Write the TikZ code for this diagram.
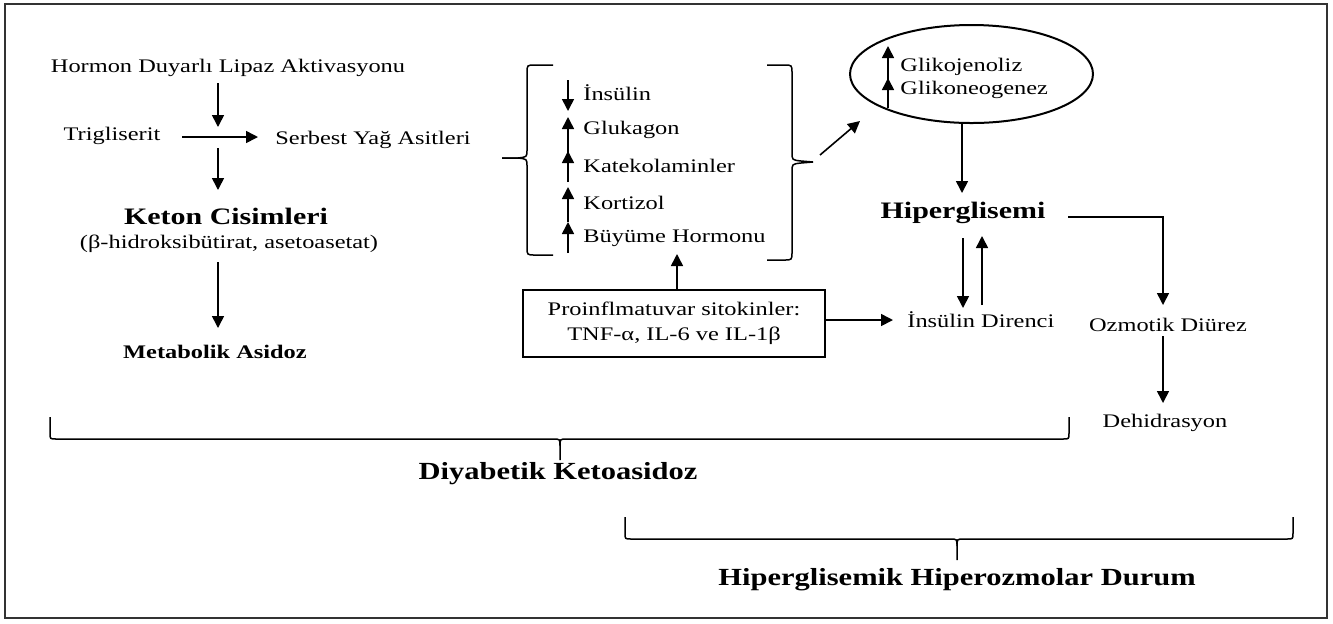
\documentclass[tikz,border=0pt]{standalone}
\usepackage{fontspec}
\setmainfont{Liberation Serif}[FakeStretch=1.27]
\usetikzlibrary{arrows.meta,shapes.geometric}
\begin{document}
\begin{tikzpicture}[x=0.5pt,y=-0.5pt,
  arr/.style={line width=0.8pt,-{Triangle[length=6pt,width=6pt]}},
  ln/.style={line width=0.75pt},
  txt/.style={inner sep=0pt,font=\fontsize{9.6}{11}\selectfont},
  bsm/.style={inner sep=0pt,font=\fontsize{9.6}{11}\selectfont\bfseries},
  big/.style={inner sep=0pt,font=\fontsize{11.8}{13}\selectfont\bfseries},
  lab/.style={inner sep=0pt,font=\fontsize{12.3}{13}\selectfont\bfseries\addfontfeature{FakeStretch=1.24}},
  ]
\useasboundingbox (0,0) rectangle (1333,623);
\draw[line width=1pt, black!80] (5,4) rectangle (1327,618);

% left column
\node[txt] (hdl) at (228,68) {Hormon Duyarlı Lipaz Aktivasyonu};
\node[txt] (tg) at (112,136) {Trigliserit};
\node[txt,anchor=west] (sya) at (275,140) {Serbest Yağ Asitleri};
\node[big] (kc) at (226,216) {Keton Cisimleri};
\node[txt] (kcs) at (229,244) {(β-hidroksibütirat, asetoasetat)};
\node[bsm] (ma) at (215,352) {Metabolik Asidoz};
\coordinate (a1s) at (218,83);  \coordinate (a1e) at (218,127);
\coordinate (a2s) at (182,137); \coordinate (a2e) at (258,137);
\coordinate (a3s) at (218,148); \coordinate (a3e) at (218,190);
\coordinate (a4s) at (218,262); \coordinate (a4e) at (218,328);
\draw[arr] (a1s) -- (a1e);
\draw[arr] (a2s) -- (a2e);
\draw[arr] (a3s) -- (a3e);
\draw[arr] (a4s) -- (a4e);

% hormone bracket
\draw[ln] (553,65) -- (535,65) .. controls (527,65) .. (527,73) -- (527,150)
  .. controls (527,157) .. (518,158) -- (502,158);
\draw[ln] (502,158) -- (518,158) .. controls (527,159) .. (527,166) -- (527,247)
  .. controls (527,255) .. (535,255) -- (553,255);
\draw[ln] (767,65) -- (784,65) .. controls (792,65) .. (792,73) -- (792,152)
  .. controls (792,160) .. (801,161) -- (813,162);
\draw[ln] (813,162) -- (801,163) .. controls (792,164) .. (792,172) -- (792,252)
  .. controls (792,260) .. (784,260) -- (767,260);

\node[txt,anchor=west] (h1) at (583,93) {İnsülin};
\node[txt,anchor=west] (h2) at (583,130) {Glukagon};
\node[txt,anchor=west] (h3) at (583,166) {Katekolaminler};
\node[txt,anchor=west] (h4) at (583,203) {Kortizol};
\node[txt,anchor=west] (h5) at (583,238) {Büyüme Hormonu};
\draw[arr] (568,80) -- (568,111);
\draw[arr] (568,153) -- (568,117);
\draw[arr] (568,182) -- (568,151);
\draw[arr] (568,222) -- (568,187);
\draw[arr] (568,253) -- (568,222);

% cytokine box
\node[draw, line width=1pt, inner sep=0pt, minimum width=151pt, minimum height=33.5pt,
  align=center, font=\fontsize{9.6}{12.5}\selectfont] (pro) at (674,323.5)
  {Proinflmatuvar sitokinler:\\TNF-α, IL-6 ve IL-1β};
\coordinate (brb) at (677,254);
\draw[arr] (pro.north -| brb) -- (brb);

% ellipse
\node[draw, ellipse, line width=1pt, inner sep=0pt, minimum width=121.5pt,
  minimum height=49pt] (el) at (971.5,74) {};
\node[txt,anchor=west] (gj) at (900,67) {Glikojenoliz};
\node[txt,anchor=west] (gn) at (900,90) {Glikoneogenez};
\draw[arr] (888,80) -- (888,46);
\draw[arr] (888,108) -- (888,78);
\coordinate (brt) at (820,155);
\draw[arr] (brt) -- (860,121);

% hyperglycemia
\node[big] (hg) at (963,213) {Hiperglisemi};
\node[txt,anchor=west] (id) at (907,320) {İnsülin Direnci};
\draw[arr] (962,123) -- (962,193);
\draw[arr] (963,238) -- (963,308);
\draw[arr] (982,305) -- (982,236);
\draw[arr] (pro.east |- id.west) -- ([xshift=-7pt]id.west);

\node[txt] (od) at (1168,325) {Ozmotik Diürez};
\node[txt] (dh) at (1165,423) {Dehidrasyon};
\draw[arr] (1068,217) -| (1163,305);
\draw[arr] (1163,336) -- (1163,403);

% bottom braces
\draw[ln] (50,417) -- (50,433) .. controls (50,439) .. (56,439) -- (553,439)
  .. controls (560,439) .. (560,446) -- (560,460);
\draw[ln] (1069,417) -- (1069,433) .. controls (1069,439) .. (1063,439) -- (567,439)
  .. controls (560,439) .. (560,446);
\node[lab] (dka) at (558,474) {Diyabetik Ketoasidoz};

\draw[ln] (625,517) -- (625,533) .. controls (625,539) .. (631,539) -- (950,539)
  .. controls (957,539) .. (957,546) -- (957,560);
\draw[ln] (1293,517) -- (1293,533) .. controls (1293,539) .. (1287,539) -- (964,539)
  .. controls (957,539) .. (957,546);
\node[lab] (hhd) at (957,580) {Hiperglisemik Hiperozmolar Durum};
\end{tikzpicture}
\end{document}
